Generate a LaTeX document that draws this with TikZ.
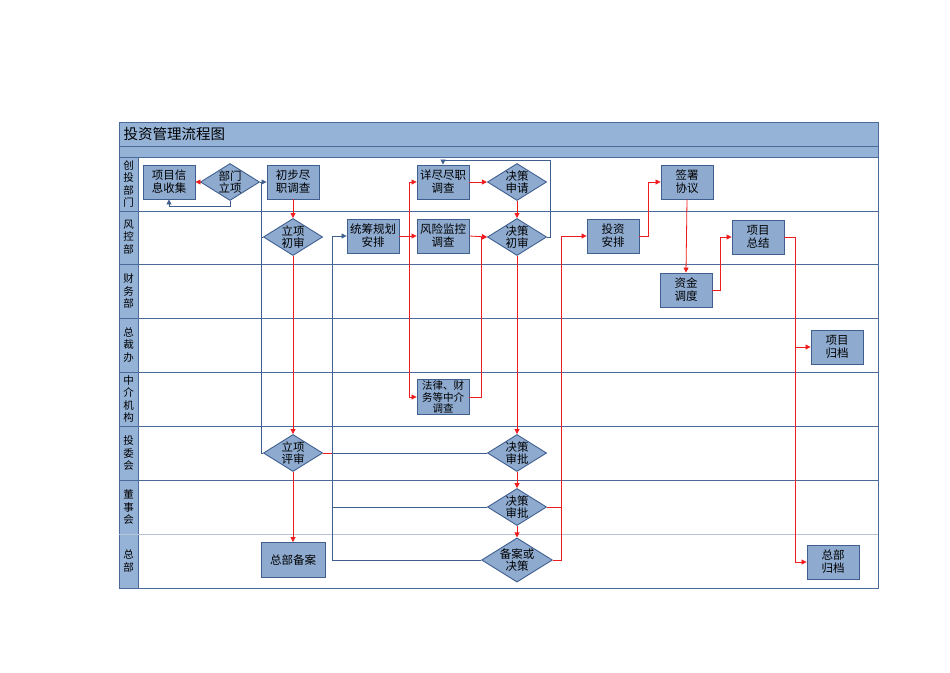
\documentclass[tikz,border=0pt]{standalone}
\usepackage{fontspec}
\setmainfont{Noto Sans CJK SC}
\usetikzlibrary{shapes.geometric,arrows.meta}
\definecolor{fillb}{HTML}{95B3D7}
\definecolor{boxf}{HTML}{8EAACF}
\definecolor{edgeb}{HTML}{3F5F8F}
\definecolor{lanel}{HTML}{4A6A99}
\definecolor{rl}{HTML}{EE1C1C}
\begin{document}
\begin{tikzpicture}[x=1pt,y=-1pt,
 box/.style={draw=edgeb,fill=boxf,line width=0.9pt,minimum width=52pt,minimum height=34pt,inner sep=1pt,align=center,font=\fontsize{11.5}{13}\selectfont},
 dia/.style={diamond,draw=edgeb,fill=boxf,line width=0.9pt,minimum width=54pt,minimum height=34pt,aspect=1.6,inner sep=0pt,align=center,font=\fontsize{11.5}{12}\selectfont},
 rd/.style={draw=rl,line width=0.8pt},
 bl/.style={draw=edgeb,line width=0.8pt},
 ar/.style={-{Triangle[length=5pt,width=5pt]}},
 lab/.style={align=center,font=\fontsize{10.5}{12.5}\selectfont}]
\useasboundingbox (0,0) rectangle (950,672);
% frame
\fill[fillb] (119,122) rectangle (878,157);
\fill[fillb] (119,157) rectangle (138,588);
\draw[lanel,line width=0.8pt] (119,122) rectangle (878,588);
\draw[lanel,line width=0.8pt] (119,146) -- (878,146) (119,157) -- (878,157) (138,157) -- (138,588);
\foreach \y in {211,264,318,372,426,480} \draw[lanel,line width=0.8pt] (119,\y) -- (878,\y);
\draw[lanel!40,line width=0.8pt] (119,534) -- (878,534);
\node[anchor=west,font=\fontsize{14.5}{16}\selectfont] (title) at (120,134) {投资管理流程图};
\node[lab] (l1) at (128.5,184) {创\\投\\部\\门};
\node[lab] (l2) at (128.5,237) {风\\控\\部};
\node[lab] (l3) at (128.5,291) {财\\务\\部};
\node[lab] (l4) at (128.5,345) {总\\裁\\办};
\node[lab] (l5) at (128.5,399) {中\\介\\机\\构};
\node[lab] (l6) at (128.5,453) {投\\委\\会};
\node[lab] (l7) at (128.5,507) {董\\事\\会};
\node[lab] (l8) at (128.5,561) {总\\部};
% nodes
\node[box] (xxsj) at (169,182) {项目信\\息收集};
\node[dia] (bmlx) at (230,182) {部门\\立项};
\node[box] (cbdz) at (293,182) {初步尽\\职调查};
\node[dia] (lxcs) at (293,237) {立项\\初审};
\node[box] (tcgh) at (373,236) {统筹规划\\安排};
\node[box] (fxjk) at (443,236) {风险监控\\调查};
\node[box] (xjdz) at (443,182) {详尽尽职\\调查};
\node[dia] (jcsq) at (517,182) {决策\\申请};
\node[dia] (jccs) at (517,237) {决策\\初审};
\node[box,font=\fontsize{10.5}{11.5}\selectfont] (flcw) at (443,397) {法律、财\\务等中介\\调查};
\node[dia] (lxps) at (293,453) {立项\\评审};
\node[dia] (jcsp1) at (517,453) {决策\\审批};
\node[dia] (jcsp2) at (517,507) {决策\\审批};
\node[dia] (bahj) at (517,560) {备案或\\决策};
\node[box,minimum width=64pt,minimum height=35pt] (zbba) at (293,560) {总部备案};
\node[box] (tzap) at (613,236) {投资\\安排};
\node[box] (qsxy) at (687,182) {签署\\协议};
\node[box] (zjdd) at (686,290) {资金\\调度};
\node[box] (xmzj) at (758,237) {项目\\总结};
\node[box] (xmgd) at (837,347) {项目\\归档};
\node[box] (zbgd) at (833,562) {总部\\归档};
% blue connectors
\draw[bl,ar] (bmlx.south) -- (230,206) -| (xxsj.south);
\draw[bl,ar] (bmlx.east) -- (cbdz.west);
\draw[bl] (261,182) -- (261,453) -- (lxps.west);
\draw[bl] (261,237) -- (lxcs.west);
\draw[bl,ar] (332,560) -- (332,236) -- (tcgh.west);
\draw[bl] (332,453) -- (jcsp1.west);
\draw[bl] (332,507) -- (jcsp2.west);
\draw[bl] (332,560) -- (bahj.west);
\draw[bl,ar] (jccs.east) -- (550,237) -- (550,160) -| (xjdz.north);
% red connectors
\draw[rd,ar] (bmlx.west) -- (xxsj.east);
\draw[rd,ar] (cbdz.south) -- (lxcs.north);
\draw[rd,ar] (lxcs.south) -- (lxps.north);
\draw[rd,ar] (lxps.south) -- (zbba.north);
\draw[rd] (lxps.east) -- (332,453);
\draw[rd,ar] (tcgh.east) -- (fxjk.west);
\draw[rd,ar] (409,236) |- (xjdz.west);
\draw[rd,ar] (409,236) |- (flcw.west);
\draw[rd,ar] (fxjk.east) -- (jccs.west);
\draw[rd,ar] (flcw.east) -- (481,397) -- (481,237) -- (jccs.west);
\draw[rd,ar] (xjdz.east) -- (jcsq.west);
\draw[rd,ar] (jcsq.south) -- (jccs.north);
\draw[rd,ar] (jccs.south) -- (jcsp1.north);
\draw[rd,ar] (jcsp1.south) -- (jcsp2.north);
\draw[rd,ar] (jcsp2.south) -- (bahj.north);
\draw[rd] (jcsp2.east) -- (561,507);
\draw[rd,ar] (bahj.east) -- (561,560) -- (561,236) -- (tzap.west);
\draw[rd,ar] (tzap.east) -- (648,236) -- (648,182) -- (qsxy.west);
\draw[rd,ar] (qsxy.south) -- (zjdd.north);
\draw[rd,ar] (zjdd.east) -- (720,290) -- (720,237) -- (xmzj.west);
\draw[rd,ar] (xmzj.east) -- (795,237) -- (795,562) -- (zbgd.west);
\draw[rd,ar] (795,347) -- (xmgd.west);
\end{tikzpicture}
\end{document}
